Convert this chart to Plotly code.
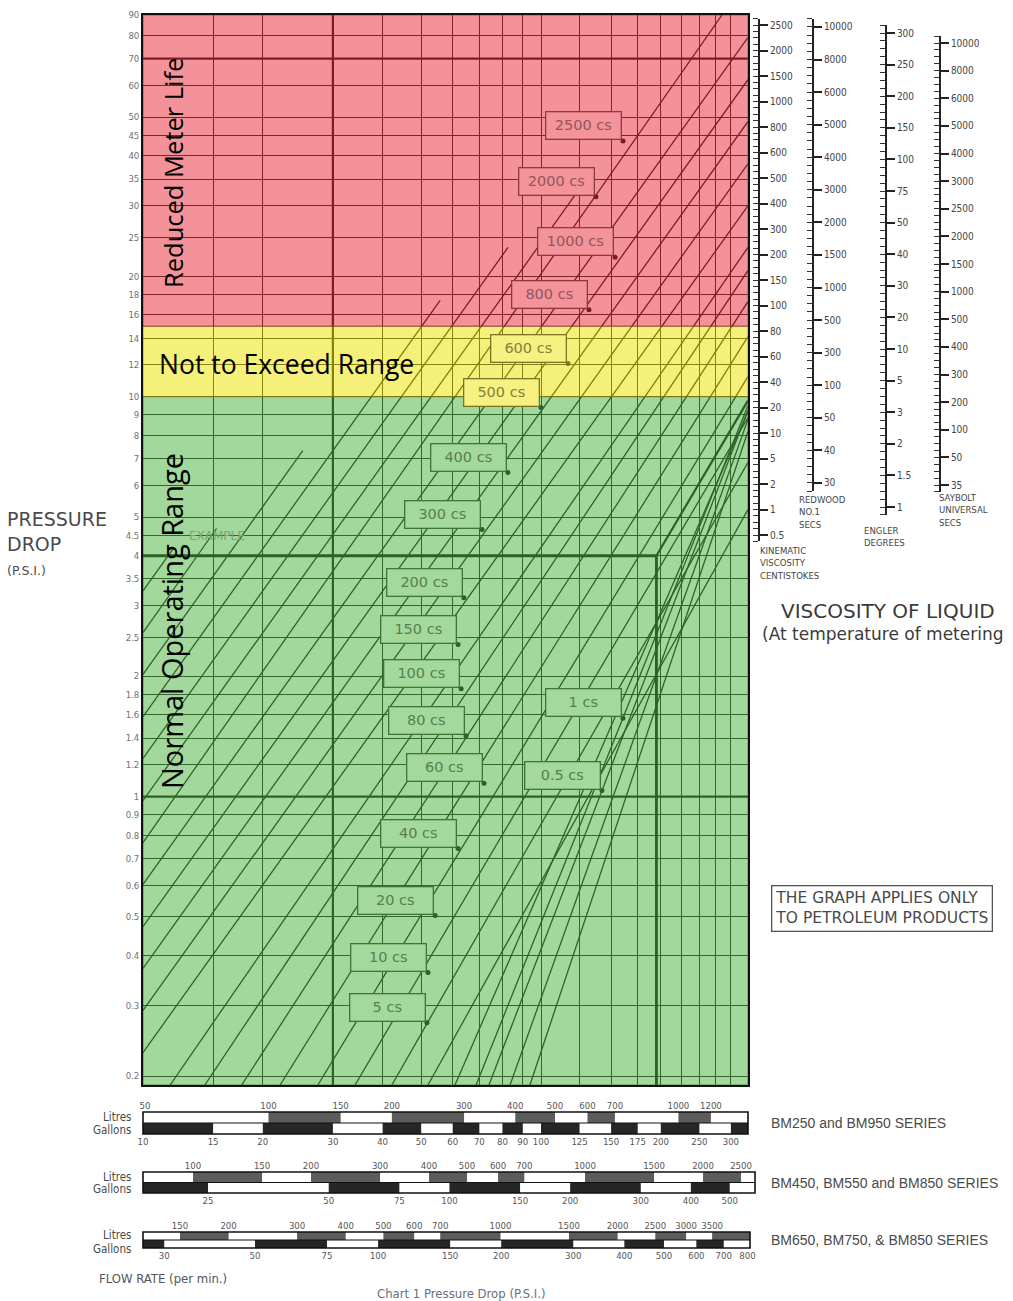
import numpy as np
import plotly.graph_objects as go

W, H = 1013, 1301

# ---------------- chart data ----------------
psi_ticks = [0.2, 0.3, 0.4, 0.5, 0.6, 0.7, 0.8, 0.9, 1, 1.2, 1.4, 1.6, 1.8, 2, 2.5, 3, 3.5, 4, 4.5, 5,
             6, 7, 8, 9, 10, 12, 14, 16, 18, 20, 25, 30, 35, 40, 45, 50, 60, 70, 80, 90]
flow_grid_gal = [15, 20, 30, 40, 50, 60, 70, 80, 90, 100, 125, 150, 175, 200, 225, 250, 275, 300]
heavy_psi = [70, 1]
heavy_gal = [30]

zone_names = ["Normal Operating Range", "Not to Exceed Range", "Reduced Meter Life"]
zone_low_psi = [0.19, 10, 15]
zone_high_psi = [10, 15, 90]

# viscosity lines: start / end points (gal per min, psi)
line_start_gal = [10, 10, 10, 10, 10, 10, 10, 10, 10, 10, 10, 10,
                  11.7, 14.3, 17.7, 22.1, 27.5, 34.1, 42.2, 52.0,
                  60.8, 68.7, 74.0, 83.6, 93.8]
line_start_psi = [3.27, 2.57, 2.02, 1.585, 1.245, 0.977, 0.767, 0.603, 0.473, 0.372, 0.292, 0.229,
                  0.19, 0.19, 0.19, 0.19, 0.19, 0.19, 0.19, 0.19,
                  0.19, 0.19, 0.19, 0.19, 0.19]
line_end_gal = [11.96, 15.3, 25.2, 55.8, 82.6, 135.9, 285, 331, 331, 331, 331, 331,
                331, 331, 331, 331, 331, 331, 331, 331,
                331, 331, 331, 331, 331]
line_end_psi = [4.19, 4.68, 7.33, 17.4, 23.6, 37.2, 90, 79.0, 62.0, 48.7, 38.2, 30.0,
                23.6, 20.65, 17.28, 14.13, 11.22, 8.86, 6.84, 5.22,
                9.17, 9.49, 9.23, 8.76, 8.18]

visc_labels = ["2500 cs", "2000 cs", "1000 cs", "800 cs", "600 cs", "500 cs", "400 cs", "300 cs",
               "200 cs", "150 cs", "100 cs", "80 cs", "60 cs", "40 cs", "20 cs", "10 cs", "5 cs",
               "1 cs", "0.5 cs"]
visc_dot_gal = [160.7, 137.4, 153.5, 132.0, 116.9, 100.0, 82.6, 71.1, 64.0, 61.9, 63.0, 64.8,
                71.9, 61.9, 54.2, 52.0, 51.7, 160.7, 142.3]
visc_dot_psi = [43.6, 31.6, 22.3, 16.5, 12.1, 9.39, 6.46, 4.65, 3.14, 2.40, 1.86, 1.42,
                1.08, 0.741, 0.504, 0.363, 0.272, 1.57, 1.035]

example_gal = [10, 195, 195]
example_psi = [4.0, 4.0, 0.19]
example2_gal = [195, 331]
example2_psi = [4.0, 9.77]

# viscosity conversion scales (labels top -> bottom)
kin_labels = ["2500", "2000", "1500", "1000", "800", "600", "500", "400", "300", "200", "150",
              "100", "80", "60", "40", "20", "10", "5", "2", "1", "0.5"]
redwood_labels = ["10000", "8000", "6000", "5000", "4000", "3000", "2000", "1500", "1000",
                  "500", "300", "100", "50", "40", "30"]
engler_labels = ["300", "250", "200", "150", "100", "75", "50", "40", "30", "20", "10", "5",
                 "3", "2", "1.5", "1"]
saybolt_labels = ["10000", "8000", "6000", "5000", "4000", "3000", "2500", "2000", "1500",
                  "1000", "500", "400", "300", "200", "100", "50", "35"]
scale_titles = ["KINEMATIC<br>VISCOSITY<br>CENTISTOKES", "REDWOOD<br>NO.1<br>SECS",
                "ENGLER<br>DEGREES", "SAYBOLT<br>UNIVERSAL<br>SECS"]

# flow-rate scales
row1_litres = [50, 100, 150, 200, 300, 400, 500, 600, 700, 1000, 1200]
row1_gallons = [10, 15, 20, 30, 40, 50, 60, 70, 80, 90, 100, 125, 150, 175, 200, 250, 300]
row2_litres = [100, 150, 200, 300, 400, 500, 600, 700, 1000, 1500, 2000, 2500]
row2_gallons = [25, 50, 75, 100, 150, 200, 300, 400, 500, 600]
row3_litres = [150, 200, 300, 400, 500, 600, 700, 1000, 1500, 2000, 2500, 3000, 3500]
row3_gallons = [30, 50, 75, 100, 150, 200, 300, 400, 500, 600, 700, 800]
series_names = ["BM250 and BM950 SERIES", "BM450, BM550 and BM850 SERIES",
                "BM650, BM750, & BM850 SERIES"]


# ---------------- helpers (page pixels -> paper, page body margin 8px) ----------------
OFF = 8


def PX(x):
    return (x - OFF) / W


def PY(y):
    return 1 - (y - OFF) / H


XR = [1.0, 2.5201]                       # log10 gal/min
YR = [np.log10(0.19), np.log10(90)]      # log10 psi
x_lo, x_hi = 10 ** XR[0], 10 ** XR[1]

zone_fill = ["rgba(72,178,58,0.5)", "rgba(236,226,0,0.52)", "rgba(232,40,52,0.5)"]
zone_edge = ["rgba(40,90,30,0.8)", "rgba(120,115,20,0.8)", "rgba(130,40,45,0.8)"]
tint_bg = ["#A4D99D", "#F6F180", "#F4939A"]
tint_border = ["#3f7339", "#7b7625", "#8c3a41"]
tint_text = ["#55804f", "#85813c", "#90575c"]

NARROW = "Liberation Sans Narrow, DejaVu Sans Condensed, Liberation Sans, Arial, sans-serif"
SANS = "Liberation Sans, Arial, sans-serif"
WIDE = "DejaVu Sans, Verdana, sans-serif"
MYRIAD = "Open Sans, Noto Sans, sans-serif"

fig = go.Figure()

# diagonal viscosity lines
lx, ly = [], []
for a, b, c, d in zip(line_start_gal, line_start_psi, line_end_gal, line_end_psi):
    lx += [a, c, None]
    ly += [b, d, None]
fig.add_trace(go.Scatter(x=lx, y=ly, mode="lines", line=dict(color="#151515", width=1.3),
                         hoverinfo="skip", showlegend=False))
# heavier grid lines
hx, hy = [], []
for p in heavy_psi:
    hx += [x_lo, x_hi, None]
    hy += [p, p, None]
for g in heavy_gal:
    hx += [g, g, None]
    hy += [10 ** YR[0], 10 ** YR[1], None]
fig.add_trace(go.Scatter(x=hx, y=hy, mode="lines", line=dict(color="#151515", width=2.2),
                         hoverinfo="skip", showlegend=False))
# example path
fig.add_trace(go.Scatter(x=example_gal, y=example_psi, mode="lines",
                         line=dict(color="#101010", width=2.8), hoverinfo="skip", showlegend=False))
fig.add_trace(go.Scatter(x=example2_gal, y=example2_psi, mode="lines",
                         line=dict(color="#101010", width=2.2), hoverinfo="skip", showlegend=False))
# label dots
fig.add_trace(go.Scatter(x=visc_dot_gal, y=visc_dot_psi, mode="markers",
                         marker=dict(size=5, color="#111"), hoverinfo="skip", showlegend=False))
# coloured zones (semi-transparent, above the grid and lines)
for lo, hi, col, edge in zip(zone_low_psi, zone_high_psi, zone_fill, zone_edge):
    fig.add_trace(go.Scatter(x=[x_lo, x_hi, x_hi, x_lo, x_lo], y=[lo, lo, hi, hi, lo],
                             fill="toself", fillcolor=col, mode="lines",
                             line=dict(width=0.8, color=edge), hoverinfo="skip", showlegend=False))

# viscosity label boxes
for lab, g, p in zip(visc_labels, visc_dot_gal, visc_dot_psi):
    pc = p * 1.08
    zi = 2 if pc > 15 else (1 if pc > 10 else 0)
    fig.add_annotation(x=np.log10(g), y=np.log10(p), xref="x", yref="y", text=lab,
                       showarrow=False, xanchor="right", yanchor="bottom", xshift=-1, yshift=1,
                       bgcolor=tint_bg[zi], bordercolor=tint_border[zi], borderwidth=1.3,
                       borderpad=3, width=68, height=20,
                       font=dict(size=14.5, color=tint_text[zi], family=WIDE))

fig.add_annotation(x=np.log10(15.3), y=np.log10(4.49), xref="x", yref="y", text="EXAMPLE",
                   showarrow=False, xanchor="center", yanchor="middle",
                   font=dict(size=12, color="#7aa775", family=WIDE))


def note(x, y, text, size, color, family=NARROW, xanchor="center", yanchor="middle", **kw):
    fig.add_annotation(x=PX(x), y=PY(y), xref="paper", yref="paper", text=text, showarrow=False,
                       xanchor=xanchor, yanchor=yanchor,
                       font=dict(size=size, color=color, family=family), **kw)


# zone titles
note(173, 173, zone_names[2], 25.5, "#000", MYRIAD, textangle=-90)
note(157, 364, zone_names[1], 26.5, "#000", MYRIAD, xanchor="left")
note(172, 621, zone_names[0], 29, "#000", MYRIAD, textangle=-90)

# y title
note(5, 543, "PRESSURE<br>DROP<br><span style='font-size:12.5px'>(P.S.I.)</span>", 19, "#4a4a4a",
     family=WIDE, xanchor="left", align="left")

layout = dict(
    width=W, height=H, margin=dict(l=0, r=0, t=0, b=0, pad=0, autoexpand=False),
    paper_bgcolor="white", plot_bgcolor="white", showlegend=False,
    xaxis=dict(type="log", range=XR, domain=[PX(143), PX(748)], anchor="y",
               tickvals=flow_grid_gal, showticklabels=False, ticks="",
               showgrid=True, gridcolor="#1e1e1e", gridwidth=1.2,
               showline=True, mirror=True, linecolor="#111", linewidth=1.6,
               zeroline=False, layer="below traces"),
    yaxis=dict(type="log", range=YR, domain=[PY(1085), PY(15)], anchor="x",
               tickvals=psi_ticks, ticktext=[f"{v:g}" for v in psi_ticks], ticks="",
               tickfont=dict(size=9.5, color="#707070", family=NARROW),
               showgrid=True, gridcolor="#1e1e1e", gridwidth=1.2,
               showline=True, mirror=True, linecolor="#111", linewidth=1.6,
               zeroline=False, layer="below traces"),
)

# ---------------- flow-rate scale rows ----------------
rows = [
    dict(lit=row1_litres, gal=row1_gallons, lr=[1.694, 3.1697], gr=XR, x0=143, x1=748, y0=1112, y1=1134,
         ly=(1117, 1130)),
    dict(lit=row2_litres, gal=row2_gallons, lr=[1.8724, 3.4336], gr=[1.2358, 2.7620], x0=143, x1=755,
         y0=1172, y1=1193, ly=(1177, 1189)),
    dict(lit=row3_litres, gal=row3_gallons, lr=[2.0810, 3.6414], gr=[1.4252, 2.9093], x0=143, x1=750,
         y0=1232, y1=1248, ly=(1235, 1249)),
]
shapes = []


def strip_rects(vals, rng, ylo, yhi, dark_first):
    lo, hi = 10 ** rng[0], 10 ** rng[1]
    b = [lo] + [v for v in vals if lo * 1.03 < v < hi / 1.03] + [hi]
    xs, ys = [], []
    for j in range(len(b) - 1):
        if (j % 2 == 0) == dark_first:
            xs += [b[j], b[j + 1], b[j + 1], b[j], b[j], None]
            ys += [ylo, ylo, yhi, yhi, ylo, None]
    return xs, ys


for k, r in enumerate(rows):
    xl, xg, ya = f"x{2 + 2 * k}", f"x{3 + 2 * k}", f"y{2 + k}"
    xs, ys = strip_rects(r["lit"], r["lr"], 1, 2, False)
    fig.add_trace(go.Scatter(x=xs, y=ys, xaxis=xl, yaxis=ya, fill="toself", fillcolor="#5c5c5c",
                             mode="lines", line=dict(width=0), hoverinfo="skip", showlegend=False))
    xs, ys = strip_rects(r["gal"], r["gr"], 0, 1, True)
    fig.add_trace(go.Scatter(x=xs, y=ys, xaxis=xg, yaxis=ya, fill="toself", fillcolor="#262626",
                             mode="lines", line=dict(width=0), hoverinfo="skip", showlegend=False))
    dom = [PX(r["x0"]), PX(r["x1"])]
    layout[f"xaxis{2 + 2 * k}"] = dict(type="log", range=r["lr"], domain=dom, anchor=ya, side="top",
                                       tickvals=r["lit"], ticks="", showgrid=False, zeroline=False,
                                       showline=False,
                                       tickfont=dict(size=9.5, color="#555", family=NARROW))
    layout[f"xaxis{3 + 2 * k}"] = dict(type="log", range=r["gr"], domain=dom, anchor=ya, side="bottom",
                                       overlaying=xl, tickvals=r["gal"], ticks="", showgrid=False,
                                       zeroline=False, showline=False,
                                       tickfont=dict(size=9.5, color="#555", family=NARROW))
    layout[f"yaxis{2 + k}"] = dict(range=[0, 2], domain=[PY(r["y1"]), PY(r["y0"])], anchor=xl,
                                   visible=False, fixedrange=True)
    shapes.append(dict(type="rect", xref=f"{xl} domain", yref=f"{ya} domain", x0=0, x1=1, y0=0, y1=1,
                       line=dict(color="#111", width=1.6)))
    shapes.append(dict(type="line", xref=f"{xl} domain", yref=ya, x0=0, x1=1, y0=1, y1=1,
                       line=dict(color="#111", width=1.2)))
    note(133, r["ly"][0], "Litres", 11.5, "#4a4a4a", xanchor="right")
    note(133, r["ly"][1], "Gallons", 11.5, "#4a4a4a", xanchor="right")
    note(769, (r["y0"] + r["y1"]) / 2, series_names[k], 14, "#4a4a4a", family=SANS, xanchor="left")

# ---------------- viscosity conversion scales ----------------
scales = [
    (kin_labels, 758, 25, 535),
    (redwood_labels, 812, 27, 483),
    (engler_labels, 885, 33, 507),
    (saybolt_labels, 939, 43, 485),
]
for i, (labs, lxp, ytop, ybot) in enumerate(scales):
    xa, ya = f"x{8 + i}", f"y{5 + i}"
    n = len(labs)
    ppi = (ybot - ytop) / (n - 1)
    pad = 0.25
    fig.add_trace(go.Scatter(x=[0], y=[0], xaxis=xa, yaxis=ya, mode="markers",
                             marker=dict(opacity=0), hoverinfo="skip", showlegend=False))
    layout[f"xaxis{8 + i}"] = dict(domain=[PX(lxp) - 0.004, PX(lxp)], range=[0, 1], anchor=ya,
                                   visible=False, fixedrange=True)
    layout[f"yaxis{5 + i}"] = dict(domain=[PY(ybot + pad * ppi), PY(ytop - pad * ppi)],
                                   range=[n - 1 + pad, -pad], anchor=xa, side="right",
                                   tickvals=list(range(n)), ticktext=labs,
                                   showline=True, linecolor="#222", linewidth=1.8,
                                   ticks="outside", ticklen=8, tickwidth=1.5, tickcolor="#222",
                                   minor=dict(ticks="inside", ticklen=5, tickwidth=1, tickcolor="#333",
                                              dtick=0.25, tick0=0),
                                   showgrid=False, zeroline=False, fixedrange=True,
                                   tickfont=dict(size=10, color="#444", family=NARROW))

scale_title_pos = [(758, 563), (797, 512), (862, 536), (937, 510)]
for t, (tx, ty) in zip(scale_titles, scale_title_pos):
    note(tx, ty, t, 9.5, "#454545", xanchor="left", align="left")

note(888, 611, "VISCOSITY OF LIQUID", 20, "#3a3a3a", family=WIDE)
note(760, 634, "(At temperature of metering)", 17, "#3a3a3a", family=WIDE, xanchor="left")
note(882, 908, "THE GRAPH APPLIES ONLY<br>TO PETROLEUM PRODUCTS", 15.5, "#4a4a4a", family=WIDE,
     align="left", bordercolor="#555", borderwidth=1.3, borderpad=3)
note(97, 1278, "FLOW RATE (per min.)", 13, "#555", xanchor="left")
note(461, 1293, "Chart 1 Pressure Drop (P.S.I.)", 13, "#6a6f7a")

layout["shapes"] = shapes
fig.update_layout(**layout)

fig.write_html("out.html")
